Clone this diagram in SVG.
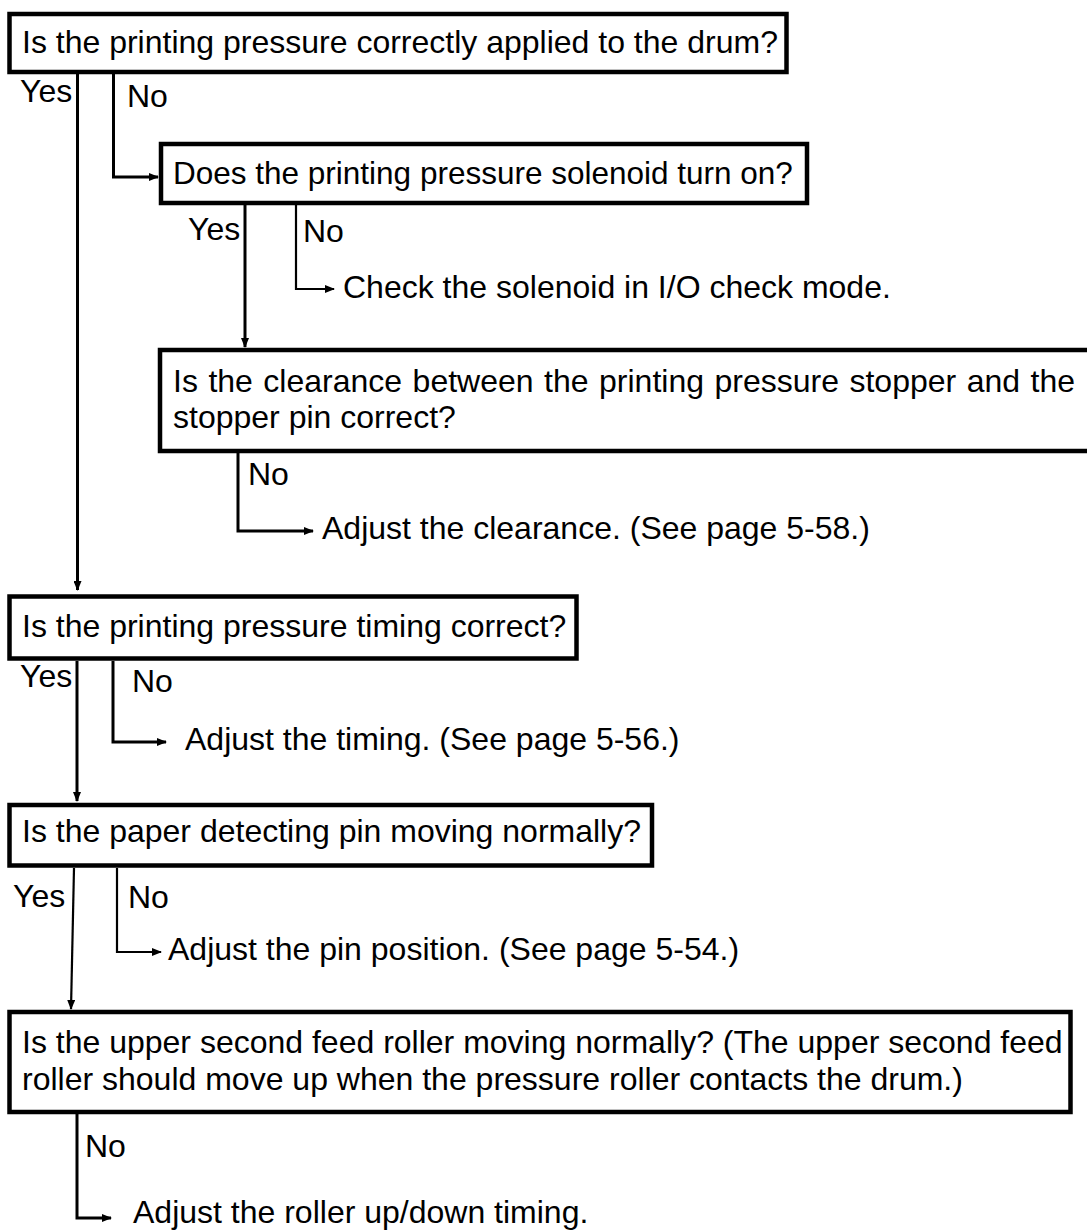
<svg xmlns="http://www.w3.org/2000/svg" width="1087" height="1230" viewBox="0 0 1087 1230">
<style>
.box{fill:#fff;stroke:#000;stroke-width:4.5}
.t{font-family:"Liberation Sans",Arial,sans-serif;font-size:32px;fill:#000}
.c{fill:none;stroke:#000;stroke-width:3}
.c2{fill:none;stroke:#000;stroke-width:2.2}
</style>
<defs>
<marker id="ah" markerUnits="userSpaceOnUse" markerWidth="10" markerHeight="8" refX="9" refY="4" orient="auto">
<path d="M0,0 L10,4 L0,8 Z" fill="#000"/>
</marker>
</defs>
<rect width="1087" height="1230" fill="#fff"/>
<g id="connectors">
<path class="c" d="M77.5,74 V590" marker-end="url(#ah)"/>
<path class="c" d="M113.5,74 V177 H158" marker-end="url(#ah)"/>
<path class="c" d="M245,205 V347" marker-end="url(#ah)"/>
<path class="c2" d="M296,205 V289 H334" marker-end="url(#ah)"/>
<path class="c" d="M238,453 V531 H313" marker-end="url(#ah)"/>
<path class="c" d="M77,661 V801" marker-end="url(#ah)"/>
<path class="c" d="M113,661 V742 H166" marker-end="url(#ah)"/>
<path class="c2" d="M74,868 L71,1009" marker-end="url(#ah)"/>
<path class="c2" d="M117,868 V952 H161" marker-end="url(#ah)"/>
<path class="c" d="M77,1114 V1218 H111" marker-end="url(#ah)"/>
</g>
<g id="labels">
<text class="t" x="20" y="102">Yes</text>
<text class="t" x="127" y="107">No</text>
<text class="t" x="188" y="240">Yes</text>
<text class="t" x="303" y="242">No</text>
<text class="t" x="248" y="485">No</text>
<text class="t" x="20" y="687">Yes</text>
<text class="t" x="132" y="692">No</text>
<text class="t" x="13" y="907">Yes</text>
<text class="t" x="128" y="908">No</text>
<text class="t" x="85" y="1157">No</text>
</g>
<g id="n1">
<rect class="box" x="9.5" y="14" width="777" height="58"/>
<text class="t" x="22" y="53">Is the printing pressure correctly applied to the drum?</text>
</g>
<g id="n2">
<rect class="box" x="161" y="144" width="646" height="59"/>
<text class="t" x="173" y="184" style="font-size:31.5px">Does the printing pressure solenoid turn on?</text>
</g>
<g id="n3">
<text class="t" x="343" y="298">Check the solenoid in I/O check mode.</text>
</g>
<g id="n4">
<rect class="box" x="160" y="350" width="932" height="101"/>
<text class="t" x="173" y="392" word-spacing="1.6">Is the clearance between the printing pressure stopper and the</text>
<text class="t" x="173" y="428">stopper pin correct?</text>
</g>
<g id="n5">
<text class="t" x="322" y="539">Adjust the clearance. (See page 5-58.)</text>
</g>
<g id="n6">
<rect class="box" x="9.5" y="596.5" width="567" height="62"/>
<text class="t" x="22" y="637">Is the printing pressure timing correct?</text>
</g>
<g id="n7">
<text class="t" x="185" y="750">Adjust the timing. (See page 5-56.)</text>
</g>
<g id="n8">
<rect class="box" x="9.5" y="805" width="642.5" height="60.5"/>
<text class="t" x="22" y="842">Is the paper detecting pin moving normally?</text>
</g>
<g id="n9">
<text class="t" x="168" y="960">Adjust the pin position. (See page 5-54.)</text>
</g>
<g id="n10">
<rect class="box" x="9.5" y="1012" width="1061" height="100"/>
<text class="t" x="22" y="1053">Is the upper second feed roller moving normally? (The upper second feed</text>
<text class="t" x="22" y="1090">roller should move up when the pressure roller contacts the drum.)</text>
</g>
<g id="n11">
<text class="t" x="133" y="1223">Adjust the roller up/down timing.</text>
</g>
</svg>
